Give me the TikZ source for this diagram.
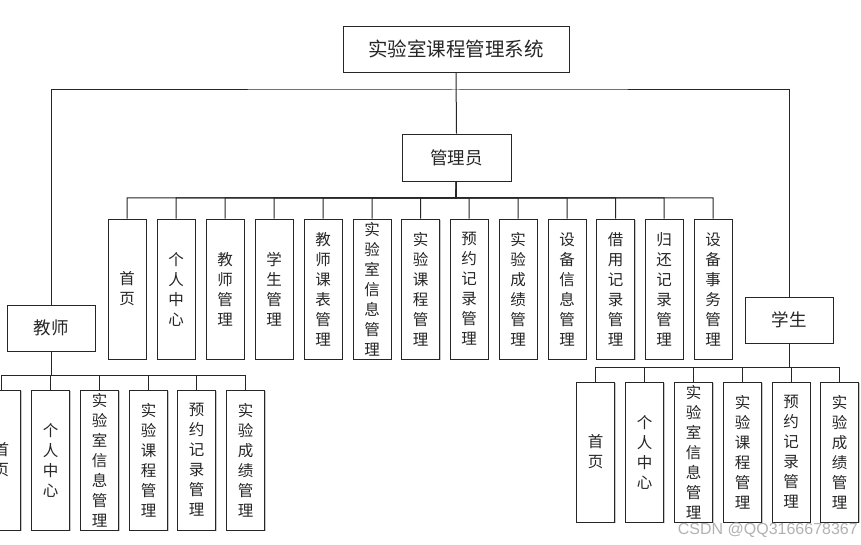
\documentclass[tikz,border=0pt]{standalone}
\usepackage{fontspec}
\newfontfamily\cjk{Noto Sans CJK SC}
\newfontfamily\wmfont{Liberation Sans}
\usetikzlibrary{shadows}
\tikzset{
  x=1pt, y=-1pt,
  boxbase/.style={draw=black!85, line width=0.8pt, fill=white, inner sep=0pt, align=center, text=black!85,
     drop shadow={shadow xshift=1.2pt, shadow yshift=-1.2pt, fill=black!35, opacity=0.6}},
  topbox/.style={boxbase, minimum width=226pt, minimum height=46pt, font=\cjk\fontsize{19.5}{22}\selectfont},
  midbox/.style={boxbase, minimum width=88pt, minimum height=46pt, font=\cjk\fontsize{17.5}{20}\selectfont},
  leafbox/.style={boxbase, minimum width=38pt, minimum height=140pt, font=\cjk\fontsize{15.5}{20}\selectfont},
  conn/.style={draw=black!85, line width=1pt},
}
\begin{document}
\begin{tikzpicture}
\path[use as bounding box] (0,0) rectangle (861,545);
\clip (0,0) rectangle (861,545);
\fill[white] (0,0) rectangle (861,545);

% main nodes
\node[topbox] (root) at (456,49) {实验室课程管理系统};
\node[boxbase, minimum width=109pt, minimum height=47pt, font=\cjk\fontsize{17.5}{20}\selectfont] (admin) at (456.5,157.5) {管理员};
\node[midbox] (teacher) at (51,328) {教师};
\node[midbox] (student) at (789,320) {学生};

% admin leaves
\node[leafbox] (a1)  at (127,289) {首\\页};
\node[leafbox] (a2)  at (176,289) {个\\人\\中\\心};
\node[leafbox] (a3)  at (225,289) {教\\师\\管\\理};
\node[leafbox] (a4)  at (274,289) {学\\生\\管\\理};
\node[leafbox] (a5)  at (323,289) {教\\师\\课\\表\\管\\理};
\node[leafbox] (a6)  at (372,289) {实\\验\\室\\信\\息\\管\\理};
\node[leafbox] (a7)  at (420.5,289) {实\\验\\课\\程\\管\\理};
\node[leafbox] (a8)  at (469,289) {预\\约\\记\\录\\管\\理};
\node[leafbox] (a9)  at (518,289) {实\\验\\成\\绩\\管\\理};
\node[leafbox] (a10) at (567,289) {设\\备\\信\\息\\管\\理};
\node[leafbox] (a11) at (615.5,289) {借\\用\\记\\录\\管\\理};
\node[leafbox] (a12) at (664,289) {归\\还\\记\\录\\管\\理};
\node[leafbox] (a13) at (713,289) {设\\备\\事\\务\\管\\理};

% teacher leaves
\node[leafbox] (t1) at (1.5,460) {首\\页};
\node[leafbox] (t2) at (50.5,460) {个\\人\\中\\心};
\node[leafbox] (t3) at (99.5,460) {实\\验\\室\\信\\息\\管\\理};
\node[leafbox] (t4) at (148.5,460) {实\\验\\课\\程\\管\\理};
\node[leafbox] (t5) at (196.5,460) {预\\约\\记\\录\\管\\理};
\node[leafbox] (t6) at (245.5,460) {实\\验\\成\\绩\\管\\理};

% student leaves
\node[leafbox] (s1) at (595.5,452) {首\\页};
\node[leafbox] (s2) at (644.5,452) {个\\人\\中\\心};
\node[leafbox] (s3) at (693.5,452) {实\\验\\室\\信\\息\\管\\理};
\node[leafbox] (s4) at (742.5,452) {实\\验\\课\\程\\管\\理};
\node[leafbox] (s5) at (791,452) {预\\约\\记\\录\\管\\理};
\node[leafbox] (s6) at (839.5,452) {实\\验\\成\\绩\\管\\理};

% bus coordinates
\coordinate (topbus) at (456,90);
\coordinate (abus) at (456,198);
\coordinate (tbus) at (51,375);
\coordinate (sbus) at (789,367.5);

% connectors
\begin{scope}[on background layer/.style={}]
\draw[conn] (root.south) -- (admin.north);
\draw[conn] (teacher.north) |- (topbus) -| (student.north);
\foreach \i in {1,...,13} \draw[conn] (admin.south) -- (abus) -| (a\i.north);
\foreach \i in {1,...,6} \draw[conn] (teacher.south) -- (tbus) -| (t\i.north);
\foreach \i in {1,...,6} \draw[conn] (student.south) -- (sbus) -| (s\i.north);
\end{scope}

% watermark
\node[anchor=east, text=black!30, font=\wmfont\fontsize{16}{18}\selectfont, inner sep=0pt] (wm) at (858,530) {CSDN @QQ3166678367};
\end{tikzpicture}
\end{document}
